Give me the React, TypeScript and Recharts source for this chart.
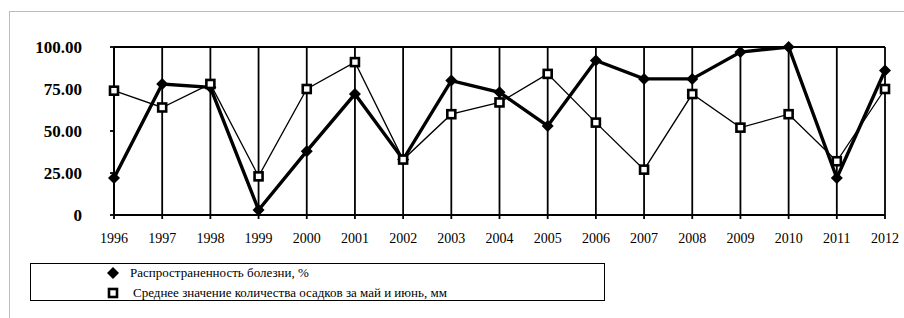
import { LineChart, Line, XAxis, YAxis, CartesianGrid, ReferenceLine } from "recharts";

const years = ["1996", "1997", "1998", "1999", "2000", "2001", "2002", "2003", "2004", "2005", "2006", "2007", "2008", "2009", "2010", "2011", "2012"];
const disease = [22, 78, 76, 3, 38, 72, 33, 80, 73, 53, 92, 81, 81, 97, 100, 22, 86];
const rainfall = [74, 64, 78, 23, 75, 91, 33, 60, 67, 84, 55, 27, 72, 52, 60, 32, 75];
const yTicks = [0, 25, 50, 75, 100];

const diseaseName = "Распространенность болезни, %";
const rainfallName = "Среднее значение количества осадков за май и июнь, мм";

const data = years.map((year, i) => ({ year, disease: disease[i], rainfall: rainfall[i] }));

const serif = "Liberation Serif, DejaVu Serif, serif";

function Diamond({ cx, cy }: any) {
  if (cx == null || cy == null) return null;
  const r = 6;
  return <polygon points={`${cx},${cy - r} ${cx + r},${cy} ${cx},${cy + r} ${cx - r},${cy}`} fill="#000" />;
}

function Square({ cx, cy }: any) {
  if (cx == null || cy == null) return null;
  return <rect x={cx - 4} y={cy - 4} width={8} height={8} fill="#fff" stroke="#000" strokeWidth={2.6} />;
}

function LegendBox() {
  return (
    <div
      style={{
        position: "absolute",
        left: 30,
        top: 263,
        width: 573,
        height: 36,
        border: "1.5px solid #000",
        fontFamily: serif,
        fontSize: 13,
        color: "#000",
      }}
    >
      <svg width={14} height={40} style={{ position: "absolute", left: 76, top: 0 }}>
        <polygon points="6,3 12,9 6,15 0,9" fill="#000" />
        <rect x={2} y={25} width={8} height={8} fill="#fff" stroke="#000" strokeWidth={2.6} />
      </svg>
      <div style={{ position: "absolute", left: 99, top: 1, whiteSpace: "nowrap" }}>{diseaseName}</div>
      <div style={{ position: "absolute", left: 102, top: 21, whiteSpace: "nowrap" }}>{rainfallName}</div>
    </div>
  );
}

export default function App() {
  return (
    <div style={{ position: "absolute", left: 0, top: 0, width: 904, height: 318, background: "#fff" }}>
      <div
        style={{
          position: "absolute",
          left: 9,
          top: 11,
          width: 895,
          height: 307,
          borderTop: "1.5px solid #bdbdbd",
          borderLeft: "1.5px solid #bdbdbd",
        }}
      />
      <LineChart
        width={904}
        height={318}
        data={data}
        margin={{ top: 47, right: 19, left: 0, bottom: 73 }}
        style={{ position: "absolute", left: 0, top: 0 }}
      >
        <CartesianGrid horizontal={false} stroke="#000" strokeWidth={1.8} />
        <XAxis
          dataKey="year"
          height={30}
          tickLine={{ stroke: "#000", strokeWidth: 1.8 }}
          axisLine={{ stroke: "#000", strokeWidth: 2 }}
          tickSize={4}
          tickMargin={14}
          tick={{ fill: "#000", fontSize: 14, fontFamily: serif }}
          interval={0}
        />
        <YAxis
          width={114}
          domain={[0, 100]}
          ticks={yTicks}
          tickFormatter={(v: number) => (v === 0 ? "0" : v.toFixed(2))}
          tickLine={{ stroke: "#000", strokeWidth: 1.8 }}
          axisLine={{ stroke: "#000", strokeWidth: 2 }}
          tickSize={4}
          tickMargin={28}
          tick={{ fill: "#000", fontSize: 17, fontWeight: "bold", fontFamily: serif }}
        />
        <ReferenceLine y={100} stroke="#000" strokeWidth={1.8} />
        <Line
          type="linear"
          dataKey="disease"
          name={diseaseName}
          stroke="#000"
          strokeWidth={3.4}
          dot={<Diamond />}
          isAnimationActive={false}
        />
        <Line
          type="linear"
          dataKey="rainfall"
          name={rainfallName}
          stroke="#000"
          strokeWidth={1.3}
          dot={<Square />}
          isAnimationActive={false}
        />
      </LineChart>
      <LegendBox />
    </div>
  );
}
